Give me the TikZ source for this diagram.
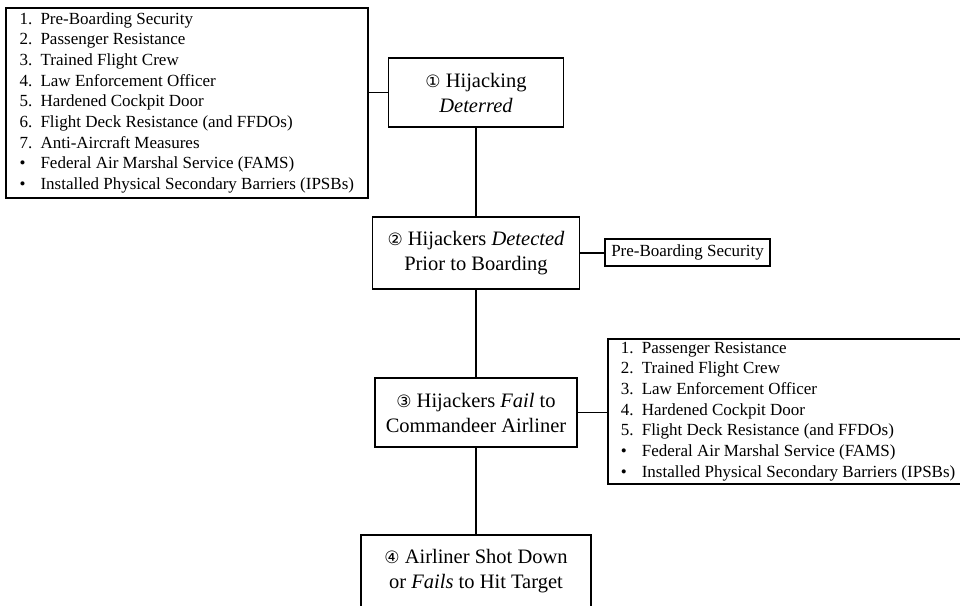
\documentclass[tikz,border=0pt]{standalone}
\usepackage{fontspec}
\setmainfont{Liberation Serif}
\newfontfamily\circfont{DejaVu Sans}
\usetikzlibrary{positioning}
\tikzset{stage/.style={draw,line width=1.6pt,fill=white,align=center,inner sep=0pt,font=\fontsize{20.5}{25}\selectfont},measures/.style={draw,line width=1.6pt,fill=white,align=left,anchor=north west,inner xsep=13pt,inner ysep=0pt,font=\fontsize{17}{20.7}\selectfont},tie/.style={draw,line width=1.6pt}}
\newcommand{\meas}[2]{\makebox[21pt][l]{#1}#2}
\newcommand{\cnum}[1]{{\circfont\fontsize{17}{17}\selectfont #1}}

\begin{document}
\begin{tikzpicture}[x=1pt,y=-1pt]
\useasboundingbox[fill=white] (0,0) rectangle (960,605);
\node[stage,minimum width=175pt,minimum height=69pt] (s1) at (476,92.5) {\cnum{①} Hijacking\\\textit{Deterred}};
\node[stage,minimum width=207pt,minimum height=72pt] (s2) at (476,253) {\cnum{②} Hijackers \textit{Detected}\\Prior to Boarding};
\node[stage,minimum width=202pt,minimum height=69pt] (s3) at (476,412.5) {\cnum{③} Hijackers \textit{Fail} to\\Commandeer Airliner};
\node[stage,minimum width=230pt,minimum height=72pt] (s4) at (476,571) {\cnum{④} Airliner Shot Down\\or \textit{Fails} to Hit Target};
\node[measures,minimum width=362pt,minimum height=190pt] (cm1) at (5,7) {\meas{1.}{Pre-Boarding Security}\\\meas{2.}{Passenger Resistance}\\\meas{3.}{Trained Flight Crew}\\\meas{4.}{Law Enforcement Officer}\\\meas{5.}{Hardened Cockpit Door}\\\meas{6.}{Flight Deck Resistance (and FFDOs)}\\\meas{7.}{Anti-Aircraft Measures}\\\meas{•}{Federal Air Marshal Service (FAMS)}\\\meas{•}{Installed Physical Secondary Barriers (IPSBs)}};
\node[draw,line width=1.6pt,inner sep=0pt,minimum width=165pt,minimum height=27pt,font=\fontsize{17}{21}\selectfont] (pbs) at (687.5,252.5) {Pre-Boarding Security};
\node[measures,minimum width=356pt,minimum height=145pt] (cm2) at (607,338) {\meas{1.}{Passenger Resistance}\\\meas{2.}{Trained Flight Crew}\\\meas{3.}{Law Enforcement Officer}\\\meas{4.}{Hardened Cockpit Door}\\\meas{5.}{Flight Deck Resistance (and FFDOs)}\\\meas{•}{Federal Air Marshal Service (FAMS)}\\\meas{•}{Installed Physical Secondary Barriers (IPSBs)}};
\foreach \a/\b in {s1/s2,s2/s3,s3/s4}\draw[tie] (\a)--(\b);
\draw[tie] (s1.west)--(s1.west -| cm1.east);
\draw[tie] (s2.east)--(s2.east -| pbs.west);
\draw[tie] (s3.east)--(s3.east -| cm2.west);
\end{tikzpicture}
\end{document}
